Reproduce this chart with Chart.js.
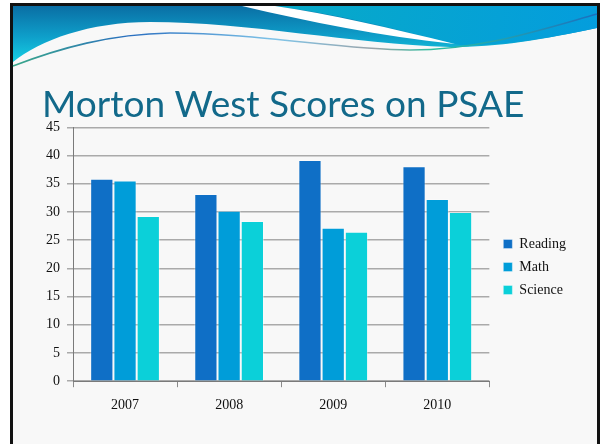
<!DOCTYPE html>
<html>
<head>
<meta charset="utf-8">
<script src="https://cdn.jsdelivr.net/npm/chart.js@4/dist/chart.umd.min.js"></script>
<style>
  html, body { margin: 0; padding: 0; background: #ffffff; }
  #wrap { width: 600px; height: 444px; position: relative; }
</style>
</head>
<body>
<div id="wrap"><canvas id="grafico" width="600" height="444"></canvas></div>
<script>
// Dados do gráfico
const anos = ["2007", "2008", "2009", "2010"];
const leitura = [35.9, 33.2, 39.2, 38.1];
const matematica = [35.6, 30.2, 27.2, 32.3];
const ciencias = [29.3, 28.4, 26.5, 30.0];

const tituloTexto = "Morton West Scores on PSAE";
const corTitulo = "#12698a";

// Fundo do slide com a onda decorativa do topo
const fundoSlide = {
  id: "fundoSlide",
  beforeDraw(chart) {
    const ctx = chart.ctx;
    ctx.save();
    ctx.fillStyle = "#ffffff";
    ctx.fillRect(0, 0, 600, 444);
    ctx.fillStyle = "#111111";
    ctx.fillRect(10, 3, 590, 441);
    ctx.fillStyle = "#f8f8f8";
    ctx.fillRect(13, 6, 584, 438);

    // faixa principal (esquerda e centro)
    let g = ctx.createLinearGradient(0, 6, 0, 62);
    g.addColorStop(0, "#0a6ea4");
    g.addColorStop(0.55, "#0e9fca");
    g.addColorStop(1, "#16cfe3");
    ctx.fillStyle = g;
    ctx.beginPath();
    ctx.moveTo(13, 6);
    ctx.lineTo(597, 6);
    ctx.lineTo(597, 28);
    ctx.bezierCurveTo(540, 40, 500, 47, 450, 47);
    ctx.bezierCurveTo(350, 44, 250, 22, 150, 22);
    ctx.bezierCurveTo(90, 22, 40, 40, 13, 62);
    ctx.closePath();
    ctx.fill();

    // parte direita mais clara
    g = ctx.createLinearGradient(300, 6, 597, 45);
    g.addColorStop(0, "#07a9c9");
    g.addColorStop(1, "#049ddd");
    ctx.fillStyle = g;
    ctx.beginPath();
    ctx.moveTo(270, 6);
    ctx.lineTo(597, 6);
    ctx.lineTo(597, 28);
    ctx.bezierCurveTo(540, 40, 500, 46, 460, 45);
    ctx.bezierCurveTo(400, 30, 330, 12, 270, 6);
    ctx.closePath();
    ctx.fill();

    // faixa branca diagonal
    ctx.fillStyle = "#ffffff";
    ctx.beginPath();
    ctx.moveTo(242, 6);
    ctx.bezierCurveTo(310, 22, 380, 36, 455, 44);
    ctx.bezierCurveTo(390, 28, 330, 14, 275, 6);
    ctx.closePath();
    ctx.fill();

    // linha fina abaixo da onda
    g = ctx.createLinearGradient(13, 0, 597, 0);
    g.addColorStop(0, "#3aa88a");
    g.addColorStop(0.2, "#2a6fc0");
    g.addColorStop(0.45, "#7fc4e8");
    g.addColorStop(0.62, "#9aa3a8");
    g.addColorStop(0.72, "#2cc0a0");
    g.addColorStop(1, "#1a6fc0");
    ctx.strokeStyle = g;
    ctx.lineWidth = 1.6;
    ctx.beginPath();
    ctx.moveTo(13, 66);
    ctx.bezierCurveTo(60, 48, 110, 34, 170, 33);
    ctx.bezierCurveTo(260, 33, 340, 50, 410, 50);
    ctx.bezierCurveTo(480, 50, 540, 30, 597, 14);
    ctx.stroke();
    ctx.restore();
  }
};

// Desloca a legenda um pouco para a direita e para baixo, como no slide
const ajusteLegenda = {
  id: "ajusteLegenda",
  afterLayout(chart) {
    const leg = chart.legend;
    if (!leg) return;
    leg.left += 5;
    leg.right += 5;
    leg.top += 17;
    leg.bottom += 17;
  }
};

// Gera o gráfico de barras
const ctx = document.getElementById("grafico").getContext("2d");
new Chart(ctx, {
  type: "bar",
  data: {
    labels: anos,
    datasets: [
      { label: "Reading", data: leitura, backgroundColor: "#0f6fc6", borderColor: "rgba(255,255,255,0.35)" },
      { label: "Math", data: matematica, backgroundColor: "#009dd9", borderColor: "rgba(255,255,255,0.35)" },
      { label: "Science", data: ciencias, backgroundColor: "#0bd0d9", borderColor: "rgba(255,255,255,0.35)" },
    ],
  },
  options: {
    responsive: false,
    animation: false,
    devicePixelRatio: 1,
    layout: { padding: { top: 76, left: 42, right: 29, bottom: 20 } },
    datasets: {
      bar: {
        categoryPercentage: 0.67,
        barPercentage: 1.0,
        borderWidth: 1,
        borderSkipped: "bottom",
      },
    },
    plugins: {
      title: {
        display: true,
        text: tituloTexto,
        align: "start",
        color: corTitulo,
        font: { family: "Lato", size: 37, weight: "normal" },
        padding: { top: 7, bottom: 0 },
      },
      legend: {
        position: "right",
        align: "center",
        labels: {
          boxWidth: 9,
          boxHeight: 9,
          padding: 9,
          color: "#111111",
          font: { family: "Liberation Serif", size: 14 },
        },
      },
      tooltip: { enabled: false },
    },
    scales: {
      x: {
        grid: {
          offset: true,
          drawOnChartArea: false,
          drawTicks: true,
          tickLength: 6,
          color: "#8a8a8a",
        },
        border: { color: "#7a7a7a", width: 1 },
        ticks: {
          color: "#111111",
          padding: 10,
          font: { family: "Liberation Serif", size: 14 },
        },
      },
      y: {
        min: 0,
        max: 45,
        afterFit(scale) { scale.width = 31; },
        ticks: {
          stepSize: 5,
          color: "#111111",
          padding: 7,
          font: { family: "Liberation Serif", size: 14 },
        },
        grid: { color: "#aaaaaa", lineWidth: 1.5, tickLength: 6 },
        border: { color: "#7a7a7a", width: 1 },
      },
    },
  },
  plugins: [fundoSlide, ajusteLegenda],
});
</script>
</body>
</html>
